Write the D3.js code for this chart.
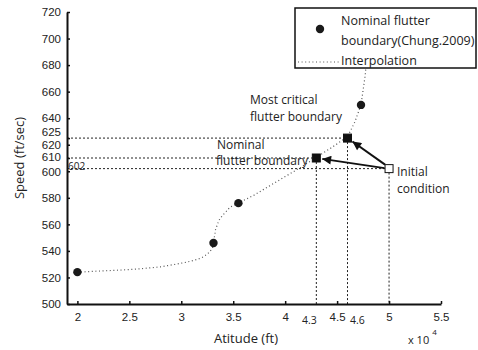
<!DOCTYPE html>
<html>
<head>
<meta charset="utf-8">
<script src="https://cdn.jsdelivr.net/npm/d3@7"></script>
<style>
  html, body { margin: 0; padding: 0; background: #fff; }
  svg { display: block; font-family: "Open Sans", "Noto Sans", sans-serif; }
  .axis path, .axis line { stroke: #111; }
  .axis text { fill: #222; font-size: 11.5px; }
</style>
</head>
<body>
<svg id="chart" width="478" height="350"></svg>
<script>
// Altitude (x 10^4 ft) tick values and extra labelled altitudes
const xTicks = [2, 2.5, 3, 3.5, 4, 4.5, 5, 5.5];
const xExtraLabels = [4.3, 4.6];
// Speed (ft/sec) tick values
const yTicks = [500, 520, 540, 560, 580, 600, 610, 620, 625, 640, 660, 680, 700, 720];

// Nominal flutter boundary points (Chung, 2009)
const boundaryAlt = [2.0, 3.31, 3.55, 4.73];
const boundarySpeed = [524, 546, 576, 650];

// Interpolated flutter boundary curve
const interpAlt = [2.0, 2.2, 2.4, 2.6, 2.8, 2.95, 3.05, 3.15, 3.2, 3.24, 3.27, 3.3, 3.31,
                   3.32, 3.33, 3.35, 3.37, 3.4, 3.43, 3.47, 3.55, 3.7, 3.85, 4.0, 4.15,
                   4.3, 4.45, 4.6, 4.67, 4.73, 4.75, 4.77, 4.79];
const interpSpeed = [524, 524.8, 525.5, 526.5, 528, 530, 531.5, 533.5, 535, 537, 539, 542, 546,
                     551, 556, 560.5, 564, 567, 569.5, 573, 576, 582, 589, 596, 603,
                     610.5, 618, 626, 637, 650, 661, 672, 690];

// Marked operating points: nominal boundary, most critical boundary, initial condition
const pointAlt = [4.3, 4.6, 5.0];
const pointSpeed = [610, 625, 602];
const initialSpeedLabel = "602";

const svg = d3.select("#chart");
const x = d3.scaleLinear().domain([1.9, 5.5]).range([67, 441]);
const y = d3.scaleLinear().domain([500, 720]).range([304, 12]);

const defs = svg.append("defs");
defs.append("marker")
  .attr("id", "arrow")
  .attr("viewBox", "0 0 10 10")
  .attr("refX", 10).attr("refY", 5)
  .attr("markerWidth", 5).attr("markerHeight", 4.4)
  .attr("markerUnits", "strokeWidth")
  .attr("orient", "auto")
  .append("path").attr("d", "M0,0L10,5L0,10z").attr("fill", "#111");

// Reference lines from the marked points to the axes
const refG = svg.append("g")
  .attr("stroke", "#222").attr("stroke-width", 1).attr("stroke-dasharray", "2,2").attr("fill", "none");
pointAlt.forEach((a, i) => {
  refG.append("line")
    .attr("x1", x.range()[0]).attr("x2", x(a) - 4)
    .attr("y1", y(pointSpeed[i])).attr("y2", y(pointSpeed[i]));
  refG.append("line")
    .attr("x1", x(a)).attr("x2", x(a))
    .attr("y1", y(pointSpeed[i]) + 4).attr("y2", y.range()[0]);
});

// Interpolation curve (dotted)
svg.append("path")
  .datum(interpSpeed)
  .attr("d", d3.line().x((d, i) => x(interpAlt[i])).y(d => y(d)))
  .attr("fill", "none")
  .attr("stroke", "#555")
  .attr("stroke-width", 1.2)
  .attr("stroke-dasharray", "1,2.6");

// Boundary points
svg.append("g").selectAll("circle")
  .data(boundarySpeed)
  .join("circle")
  .attr("cx", (d, i) => x(boundaryAlt[i]))
  .attr("cy", d => y(d))
  .attr("r", 4.2)
  .attr("fill", "#1a1a1a");

// Arrows from the initial condition to the two boundary points
const x0 = x(pointAlt[2]), y0 = y(pointSpeed[2]);
[[0, -4.5, -0.5], [1, -4, -4]].forEach(([k, ox, oy]) => {
  const tx = x(pointAlt[k]), ty = y(pointSpeed[k]);
  const sx = x0 + ox, sy = y0 + oy;
  const dx = tx - sx, dy = ty - sy, len = Math.hypot(dx, dy);
  const ex = tx - dx / len * 6, ey = ty - dy / len * 6;
  svg.append("line")
    .attr("x1", sx).attr("y1", sy).attr("x2", ex).attr("y2", ey)
    .attr("stroke", "#111").attr("stroke-width", 2)
    .attr("marker-end", "url(#arrow)");
});

// Square markers
svg.append("g").selectAll("rect")
  .data(pointSpeed)
  .join("rect")
  .attr("x", (d, i) => x(pointAlt[i]) - 4)
  .attr("y", d => y(d) - 4)
  .attr("width", 8).attr("height", 8)
  .attr("fill", (d, i) => i === 2 ? "#fff" : "#111")
  .attr("stroke", "#111").attr("stroke-width", 1);

// Axes
const xAxis = svg.append("g").attr("class", "axis")
  .attr("transform", `translate(0,${y.range()[0]})`)
  .call(d3.axisBottom(x).tickValues(xTicks).tickSizeInner(-3).tickSizeOuter(0).tickPadding(9)
    .tickFormat(d3.format("")));
xAxis.select(".domain").attr("stroke-width", 2);
xAxis.selectAll(".tick line").attr("stroke-width", 1.5);

const yAxis = svg.append("g").attr("class", "axis")
  .attr("transform", `translate(${x.range()[0]},0)`)
  .call(d3.axisLeft(y).tickValues(yTicks).tickSizeInner(-3).tickSizeOuter(0).tickPadding(6)
    .tickFormat(d3.format("d")));
yAxis.select(".domain").attr("stroke-width", 2);
yAxis.selectAll(".tick line").attr("stroke-width", 1.5);
// keep the closely spaced labels apart (pixel nudges)
const labelNudge = { 625: -6.5, 620: 0.5, 610: -1.5, 600: 0.5 };
yAxis.selectAll(".tick text")
  .attr("font-size", d => (d === 610 || d === 625 || d === 620) ? 10.5 : 11.5)
  .attr("y", d => labelNudge[d] || 0);

// Extra altitude labels under the axis
svg.append("g").selectAll("text")
  .data(xExtraLabels)
  .join("text")
  .attr("x", (d, i) => x(d) + (i === 0 ? -7 : 10))
  .attr("y", y.range()[0] + 20)
  .attr("text-anchor", "middle")
  .attr("font-size", 10.5)
  .attr("fill", "#222")
  .text(d => d);

// Initial speed label next to its reference line
svg.append("text")
  .attr("x", x.range()[0] + 1).attr("y", y(pointSpeed[2]) + 1)
  .attr("font-size", 10).attr("fill", "#222")
  .text(initialSpeedLabel);

// Axis titles
svg.append("text")
  .attr("x", 246).attr("y", 343)
  .attr("text-anchor", "middle").attr("font-size", 13).attr("fill", "#222")
  .text("Atitude (ft)");
svg.append("text")
  .attr("transform", "translate(24,158) rotate(-90)")
  .attr("text-anchor", "middle").attr("font-size", 13).attr("fill", "#222")
  .text("Speed (ft/sec)");
const exp = svg.append("text").attr("x", 408).attr("y", 344).attr("font-size", 11).attr("fill", "#222");
exp.append("tspan").text("x 10");
exp.append("tspan").attr("dx", 3).attr("dy", -9).attr("font-size", 8).text("4");

// Annotations
const ann = svg.append("g").attr("font-size", 12).attr("fill", "#222");
const annLines = [
  ["Most critical", 250, 104], ["flutter boundary", 250, 121],
  ["Nominal", 217, 149], ["flutter boundary", 216, 165],
  ["Initial", 397, 176], ["condition", 397, 193]
];
ann.selectAll("text").data(annLines).join("text")
  .attr("x", d => d[1]).attr("y", d => d[2]).text(d => d[0]);

// Legend
const lg = svg.append("g");
lg.append("rect").attr("x", 295).attr("y", 8).attr("width", 181).attr("height", 60)
  .attr("fill", "#fff").attr("stroke", "#111").attr("stroke-width", 1.5);
lg.append("circle").attr("cx", 320).attr("cy", 29).attr("r", 4.2).attr("fill", "#1a1a1a");
lg.append("line").attr("x1", 298).attr("x2", 340).attr("y1", 62).attr("y2", 62)
  .attr("stroke", "#555").attr("stroke-width", 1.2).attr("stroke-dasharray", "1,2.6");
const lt = lg.append("g").attr("font-size", 12.5).attr("fill", "#222");
lt.append("text").attr("x", 341).attr("y", 25).text("Nominal flutter");
lt.append("text").attr("x", 341).attr("y", 45).text("boundary(Chung.2009)");
lt.append("text").attr("x", 341).attr("y", 65).text("Interpolation");
</script>
</body>
</html>
